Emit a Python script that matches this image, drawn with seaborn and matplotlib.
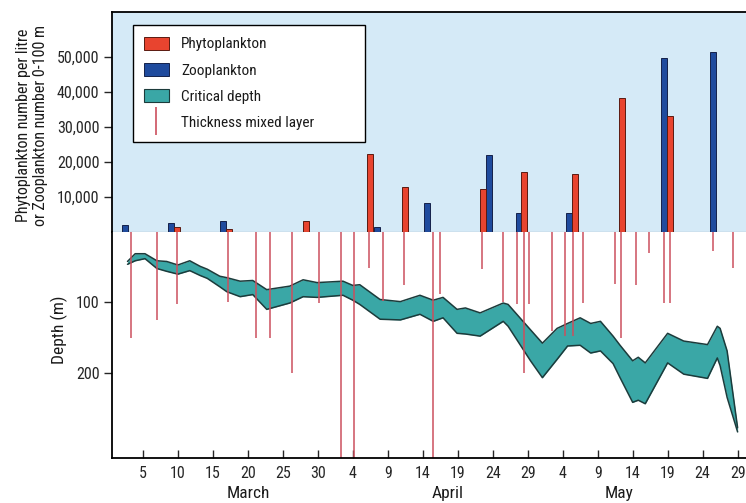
import matplotlib
matplotlib.use("Agg")
import matplotlib.pyplot as plt
import numpy as np
import pandas as pd
import seaborn as sns
from matplotlib.lines import Line2D
from matplotlib.patches import Patch

# --- data (day numbers counted from 1 March = day 1) ---
phyto_days = [9.9, 17.3, 28.3, 37.5, 42.5, 53.6, 59.5, 66.8, 73.5, 80.4]
phyto_counts = [1500, 800, 3000, 22300, 12900, 12300, 17100, 16600, 38300, 33100]

zoo_days = [2.4, 9.0, 16.4, 38.4, 45.6, 54.5, 58.8, 65.9, 79.5, 86.5]
zoo_counts = [2000, 2600, 3000, 1500, 8300, 22000, 5400, 5400, 49700, 51400]

# critical depth band: upper and lower edge (m)
crit_days = [2.8, 3.9, 5.3, 7.0, 8.4, 10.0, 11.7, 13.2, 14.2, 16.0, 17.0, 18.9,
             20.7, 22.7, 26.0, 27.9, 29.9, 33.6, 35.0, 36.0, 38.9, 41.8, 44.6,
             46.5, 47.9, 49.9, 51.1, 53.2, 56.5, 57.2, 60.4, 62.1, 64.2, 65.7,
             67.5, 69.0, 70.4, 72.2, 73.2, 75.0, 75.8, 76.8, 80.0, 82.3, 85.7,
             87.1, 87.5, 88.5, 90.0]
crit_upper = [42, 31, 31, 41, 42, 47, 41, 49, 53, 63, 65, 70,
              69, 82, 77, 68, 72, 70, 76, 75, 96, 99, 90,
              97, 93, 110, 108, 115, 101, 103, 139, 158, 137, 130,
              122, 130, 127, 148, 161, 183, 178, 186, 144, 155, 160,
              134, 137, 169, 278]
crit_lower = [46, 41, 38, 52, 56, 60, 55, 62, 66, 78, 85, 92,
              89, 110, 101, 92, 93, 90, 97, 103, 124, 125, 117,
              127, 122, 144, 145, 148, 127, 134, 183, 207, 181, 162,
              161, 172, 169, 187, 207, 242, 239, 244, 186, 202, 208,
              179, 190, 235, 284]

# thickness of the mixed layer (m)
mix_days = [3.3, 7.0, 9.9, 17.2, 21.2, 23.2, 26.3, 30.2, 33.3, 35.2, 37.3,
            39.3, 42.3, 46.5, 47.5, 53.4, 56.5, 58.4, 59.5, 60.2, 63.5, 65.4,
            66.5, 67.9, 72.5, 73.4, 75.5, 77.4, 79.5, 80.4, 86.5, 89.4]
mix_depth = [151, 125, 103, 100, 151, 151, 200, 101, 330, 330, 51,
             98, 75, 330, 88, 52, 100, 102, 201, 102, 141, 148,
             148, 101, 74, 150, 75, 30, 101, 101, 27, 51]

tick_days = [5, 10, 15, 20, 25, 30, 35, 40, 45, 50, 55, 60, 65, 70, 75, 80, 85, 90]
tick_labels = ["5", "10", "15", "20", "25", "30", "4", "9", "14", "19", "24", "29",
               "4", "9", "14", "19", "24", "29"]
months = ["March", "April", "May"]
month_days = [20, 48.5, 73]

count_ticks = [10000, 20000, 30000, 40000, 50000]
depth_ticks = [100, 200]

# --- style ---
sns.set_style("white")
plt.rcParams["font.family"] = ["Roboto Condensed", "DejaVu Sans"]
plt.rcParams["text.color"] = "#1a1a1a"

RED = "#e8442f"
BLUE = "#1f4b9e"
TEAL = "#3aa7a6"
MIX = "#cc4f5e"

fig = plt.figure(figsize=(7.46, 5.03), dpi=100)
ax_top = fig.add_axes([0.150, 0.539, 0.85, 0.437])
ax_bot = fig.add_axes([0.150, 0.0895, 0.85, 0.4495], sharex=ax_top)

# top panel: plankton counts
ax_top.set_facecolor("#d5eaf7")
ax_top.bar(zoo_days, zoo_counts, width=0.85, color=BLUE, edgecolor="#14214a", linewidth=0.7)
ax_top.bar(phyto_days, phyto_counts, width=0.85, color=RED, edgecolor="#5a1a10", linewidth=0.7)
ax_top.set_ylim(0, 62900)
ax_top.set_xlim(0.57, 91.2)
ax_top.set_yticks(count_ticks)
ax_top.set_yticklabels([f"{v:,}" for v in count_ticks], fontsize=11.5)
ax_top.tick_params(axis="y", direction="out", length=6, width=1, left=True, pad=3)
ax_top.tick_params(axis="x", bottom=False, labelbottom=False)
ax_top.spines["right"].set_visible(False)
ax_top.spines["top"].set_linewidth(1.3)
ax_top.spines["left"].set_linewidth(1.3)
ax_top.spines["bottom"].set_color("#555555")
ax_top.spines["bottom"].set_linewidth(0.8)
for s in ["top", "left"]:
    ax_top.spines[s].set_color("black")

# bottom panel: critical depth and mixed layer
crit = pd.DataFrame({"day": crit_days, "upper": crit_upper, "lower": crit_lower})
ax_bot.fill_between(crit["day"], crit["upper"], crit["lower"], color=TEAL, linewidth=0)
sns.lineplot(data=crit, x="day", y="upper", ax=ax_bot, color="#1c3b3b", linewidth=1.1)
sns.lineplot(data=crit, x="day", y="lower", ax=ax_bot, color="#1c3b3b", linewidth=1.1)
ax_bot.vlines(mix_days, 0, mix_depth, color=MIX, linewidth=1.1)
ax_bot.set_ylim(321, 0)
ax_bot.set_yticks(depth_ticks)
ax_bot.set_yticklabels([str(v) for v in depth_ticks], fontsize=11.5)
ax_bot.set_xticks(tick_days)
ax_bot.set_xticklabels(tick_labels, fontsize=11.5)
ax_bot.tick_params(axis="y", direction="out", length=6, width=1, left=True, pad=3)
ax_bot.tick_params(axis="x", direction="in", length=6, width=1, bottom=True, pad=6)
ax_bot.set_xlabel("")
ax_bot.set_ylabel("")
ax_bot.spines["top"].set_visible(False)
ax_bot.spines["right"].set_visible(False)
for s in ["left", "bottom"]:
    ax_bot.spines[s].set_color("black")
    ax_bot.spines[s].set_linewidth(1.3)

for name, d in zip(months, month_days):
    ax_bot.text(d, -0.155, name, transform=ax_bot.get_xaxis_transform(),
                ha="center", va="center", fontsize=12.5)

fig.text(0.043, 0.751, "Phytoplankton number per litre\nor Zooplankton number 0-100 m",
         rotation=90, ha="center", va="center", fontsize=11.5, linespacing=1.2,
         multialignment="center")
fig.text(0.080, 0.344, "Depth (m)", rotation=90, ha="center", va="center", fontsize=12.5)

handles = [
    Patch(facecolor=RED, edgecolor="#5a1a10", linewidth=0.7),
    Patch(facecolor=BLUE, edgecolor="#14214a", linewidth=0.7),
    Patch(facecolor=TEAL, edgecolor="#1c3b3b", linewidth=0.8),
    Line2D([], [], marker="|", linestyle="None", markersize=20, markeredgewidth=1.2, color=MIX),
]
labels = ["Phytoplankton", "Zooplankton", "Critical depth", "Thickness mixed layer"]
fig.legend(handles, labels, loc="upper left", bbox_to_anchor=(0.178, 0.950, 0.311, 0.0),
           mode="expand", borderaxespad=0, frameon=True, fancybox=False,
           edgecolor="black", framealpha=1, fontsize=11, labelspacing=0.75,
           handlelength=1.6, handleheight=0.95, borderpad=0.75, handletextpad=0.8)

fig.savefig("out.png", dpi=100)
